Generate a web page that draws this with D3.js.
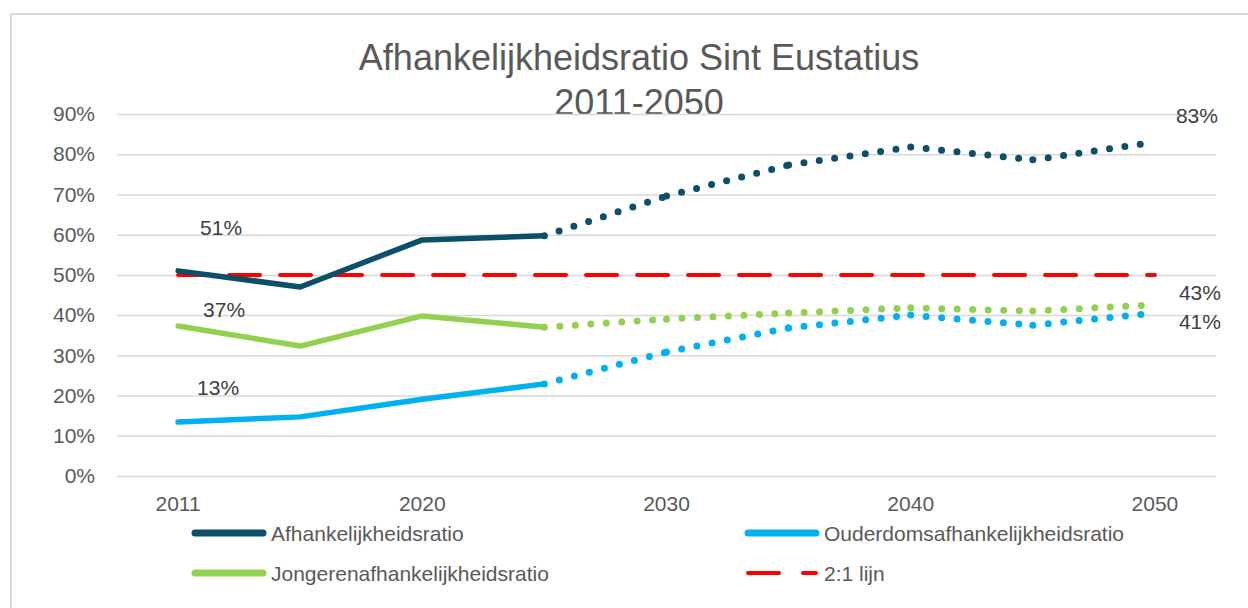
<!DOCTYPE html>
<html>
<head>
<meta charset="utf-8">
<script src="https://cdn.jsdelivr.net/npm/d3@7"></script>
<style>
  html, body { margin: 0; padding: 0; background: #ffffff; }
  svg { display: block; font-family: "Liberation Sans", Arial, sans-serif; }
</style>
</head>
<body>
<svg id="chart" width="1248" height="608"></svg>
<script>
// ---- Data ----
const categories = ["2011", "2015", "2020", "2025", "2030", "2035", "2040", "2045", "2050"];
const tickLabels = ["2011", "2020", "2030", "2040", "2050"];
const yTicks = [0, 0.1, 0.2, 0.3, 0.4, 0.5, 0.6, 0.7, 0.8, 0.9];
const afhankelijkheid = [0.510, 0.470, 0.587, 0.597, 0.696, 0.773, 0.818, 0.786, 0.830];
const ouderdom        = [0.134, 0.147, 0.191, 0.229, 0.308, 0.368, 0.400, 0.375, 0.405];
const jongeren        = [0.373, 0.323, 0.398, 0.370, 0.390, 0.405, 0.418, 0.410, 0.426];
const lijn21          = [0.5, 0.5];
const observedUntil = "2025"; // solid until here, projections dotted afterwards
const seriesNames = ["Afhankelijkheidsratio", "Ouderdomsafhankelijkheidsratio", "Jongerenafhankelijkheidsratio", "2:1 lijn"];

// ---- Styles ----
const colors = { afh: "#0B4F68", oud: "#00B0F0", jon: "#92D050", red: "#FF0000" };
const textColor = "#595959";
const gridColor = "#D9D9D9";

const svg = d3.select("#chart");

// frame (cropped chart border)
svg.append("path")
  .attr("d", "M11,608 V14 H1248")
  .attr("fill", "none")
  .attr("stroke", gridColor)
  .attr("stroke-width", 2);

// scales
const x = d3.scaleBand().domain(categories).range([117, 1216]).padding(0);
const cx = c => x(c) + x.bandwidth() / 2;
const y = d3.scaleLinear().domain([0, 0.9]).range([476, 114]);

// title
svg.append("text").attr("x", 639).attr("y", 70).attr("text-anchor", "middle")
  .attr("font-size", 36).attr("fill", textColor).text("Afhankelijkheidsratio Sint Eustatius");
svg.append("text").attr("x", 639).attr("y", 115).attr("text-anchor", "middle")
  .attr("font-size", 36).attr("fill", textColor).text("2011-2050");

// gridlines + y axis
const yAxis = d3.axisLeft(y).tickValues(yTicks).tickFormat(d3.format(".0%"))
  .tickSize(-(1216 - 117)).tickPadding(22);
const gy = svg.append("g").attr("transform", "translate(117,0)").call(yAxis);
gy.select(".domain").remove();
gy.selectAll(".tick line").attr("stroke", gridColor).attr("stroke-width", 1.5);
gy.selectAll(".tick text").attr("fill", textColor).attr("font-size", 21)
  .attr("font-family", "Liberation Sans, Arial, sans-serif");

// x axis labels
const xAxis = d3.axisBottom(x).tickValues(tickLabels).tickSize(0).tickPadding(20);
const gx = svg.append("g").attr("transform", "translate(0,476)").call(xAxis);
gx.select(".domain").remove();
gx.selectAll(".tick text").attr("fill", textColor).attr("font-size", 21)
  .attr("font-family", "Liberation Sans, Arial, sans-serif");

// red 2:1 line
const redLine = d3.line().x(d => cx(d.c)).y(d => y(d.v));
svg.append("path")
  .datum([{ c: categories[0], v: lijn21[0] }, { c: categories[categories.length - 1], v: lijn21[1] }])
  .attr("d", redLine)
  .attr("fill", "none").attr("stroke", colors.red).attr("stroke-width", 4)
  .attr("stroke-linecap", "round").attr("stroke-dasharray", "31 20");

// series
const series = [
  { key: "afh", values: afhankelijkheid, color: colors.afh },
  { key: "jon", values: jongeren, color: colors.jon },
  { key: "oud", values: ouderdom, color: colors.oud }
];
const line = d3.line().x(d => cx(d.c)).y(d => y(d.v));
const splitIdx = categories.indexOf(observedUntil);

series.forEach(s => {
  const pts = categories.map((c, i) => ({ c, v: s.values[i] }));
  // solid observed part
  svg.append("path").datum(pts.slice(0, splitIdx + 1)).attr("d", line)
    .attr("fill", "none").attr("stroke", s.color).attr("stroke-width", 5.5)
    .attr("stroke-linecap", "round").attr("stroke-linejoin", "round");
  // dotted projection, pattern restarts per segment
  for (let i = splitIdx; i < pts.length - 1; i++) {
    svg.append("path").datum([pts[i], pts[i + 1]]).attr("d", line)
      .attr("fill", "none").attr("stroke", s.color).attr("stroke-width", 7)
      .attr("stroke-linecap", "round").attr("stroke-dasharray", "0 15.5")
      .attr("stroke-dashoffset", -15.5);
  }
  s.pts = pts;
});

// data labels
const fmt = d3.format(".0%");
const labelSpecs = [
  { s: 0, i: 0, dx: 43, dy: -43 },
  { s: 1, i: 0, dx: 46, dy: -16 },
  { s: 2, i: 0, dx: 40, dy: -35 },
  { s: 0, i: 8, dx: 42, dy: -27 },
  { s: 1, i: 8, dx: 45, dy: -12 },
  { s: 2, i: 8, dx: 45, dy: 8 }
];
labelSpecs.forEach(l => {
  const p = series[l.s].pts[l.i];
  svg.append("text").attr("x", cx(p.c) + l.dx).attr("y", y(p.v) + l.dy)
    .attr("text-anchor", "middle").attr("dominant-baseline", "central")
    .attr("font-size", 21).attr("fill", "#404040").text(fmt(p.v));
});

// legend
const legendItems = [
  { name: seriesNames[0], color: colors.afh, dash: null, lx: 192, ly: 533 },
  { name: seriesNames[1], color: colors.oud, dash: null, lx: 745, ly: 533 },
  { name: seriesNames[2], color: colors.jon, dash: null, lx: 192, ly: 573 },
  { name: seriesNames[3], color: colors.red, dash: "31 24", lx: 745, ly: 573 }
];
legendItems.forEach(it => {
  const g = svg.append("g").attr("transform", `translate(${it.lx},${it.ly})`);
  const ln = g.append("line").attr("x1", 3).attr("x2", 71).attr("y1", 0).attr("y2", 0)
    .attr("stroke", it.color).attr("stroke-linecap", "round");
  if (it.dash) ln.attr("stroke-width", 4).attr("stroke-dasharray", it.dash);
  else ln.attr("stroke-width", 7);
  g.append("text").attr("x", 79).attr("y", 0).attr("dominant-baseline", "central")
    .attr("font-size", 21).attr("fill", textColor).text(it.name);
});
</script>
</body>
</html>
